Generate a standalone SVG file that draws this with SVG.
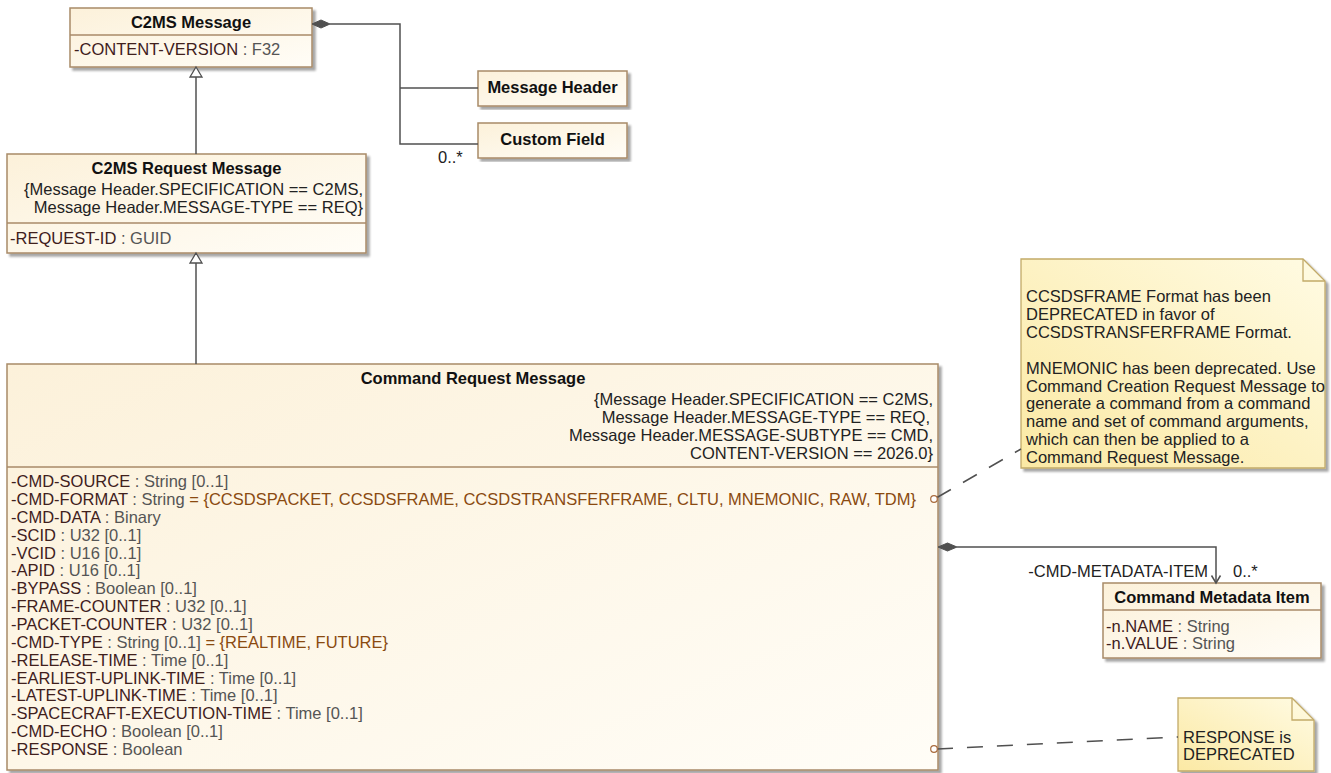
<svg xmlns="http://www.w3.org/2000/svg" width="1331" height="773" viewBox="0 0 1331 773">
<defs>
<linearGradient id="gBox" x1="0" y1="0" x2="1" y2="1">
<stop offset="0" stop-color="#fcf1da"/>
<stop offset="1" stop-color="#fffdf7"/>
</linearGradient>
<linearGradient id="gNote" x1="0" y1="1" x2="1" y2="0">
<stop offset="0" stop-color="#fbe9a4"/>
<stop offset="1" stop-color="#fffbe3"/>
</linearGradient>
<filter id="sh" x="-5%" y="-5%" width="115%" height="115%">
<feDropShadow dx="3" dy="3" stdDeviation="1.2" flood-color="#000" flood-opacity="0.35"/>
</filter>
</defs>
<style>
text{font-family:"Liberation Sans",Arial,sans-serif;font-size:16.5px;fill:#222}
.box{fill:url(#gBox);stroke:#a88a68;stroke-width:1.5;filter:url(#sh)}
.sep{stroke:#a88a68;stroke-width:1.5}
.note{fill:url(#gNote);stroke:#c2aa68;stroke-width:1.3;filter:url(#sh)}
.fold{fill:none;stroke:#c2aa68;stroke-width:1.3}
.title{font-weight:bold;fill:#111;text-anchor:middle}
.nm{fill:#40201c}
.ty{fill:#555}
.dv{fill:#8a4a10}
.con{text-anchor:end;fill:#222}
.ln{fill:none;stroke:#505050;stroke-width:1.5}
.dash{fill:none;stroke:#505050;stroke-width:1.5;stroke-dasharray:16 14}
.gen{fill:#fff;stroke:#505050;stroke-width:1.3}
.dia{fill:#505050;stroke:#505050;stroke-width:1}
.anchor{fill:#fff;stroke:#a86a3c;stroke-width:1.2}
.lbl{fill:#222}
</style>

<g id="node-c2ms-message">
<rect class="box" x="70" y="8" width="242" height="59"/>
<line class="sep" x1="70" y1="35" x2="312" y2="35"/>
<text class="title" x="191" y="28">C2MS Message</text>
<text x="74" y="54.5"><tspan class="nm">-CONTENT-VERSION</tspan><tspan class="ty"> : F32</tspan></text>
</g>

<g id="node-message-header">
<rect class="box" x="478" y="71" width="149" height="35"/>
<text class="title" x="552.5" y="93">Message Header</text>
</g>

<g id="node-custom-field">
<rect class="box" x="478" y="123" width="149" height="35"/>
<text class="title" x="552.5" y="145">Custom Field</text>
</g>

<g id="node-c2ms-request-message">
<rect class="box" x="7" y="154" width="359" height="99"/>
<text class="title" x="186.5" y="174">C2MS Request Message</text>
<text class="con" x="363" y="195">{Message Header.SPECIFICATION == C2MS,</text>
<text class="con" x="363" y="213">Message Header.MESSAGE-TYPE == REQ}</text>
<line class="sep" x1="7" y1="223" x2="366" y2="223"/>
<text x="10" y="244"><tspan class="nm">-REQUEST-ID</tspan><tspan class="ty"> : GUID</tspan></text>
</g>

<g id="node-command-request-message">
<rect class="box" x="7" y="364" width="931" height="406"/>
<text class="title" x="473" y="383.5">Command Request Message</text>
<text class="con" x="933" y="405">{Message Header.SPECIFICATION == C2MS,</text>
<text class="con" x="930" y="423">Message Header.MESSAGE-TYPE == REQ,</text>
<text class="con" x="933" y="441">Message Header.MESSAGE-SUBTYPE == CMD,</text>
<text class="con" x="933" y="459">CONTENT-VERSION == 2026.0}</text>
<line class="sep" x1="7" y1="467" x2="938" y2="467"/>
<text x="11" y="487"><tspan class="nm">-CMD-SOURCE</tspan><tspan class="ty"> : String [0..1]</tspan></text>
<text x="11" y="504.9"><tspan class="nm">-CMD-FORMAT</tspan><tspan class="ty"> : String </tspan><tspan class="dv">= {CCSDSPACKET, CCSDSFRAME, CCSDSTRANSFERFRAME, CLTU, MNEMONIC, RAW, TDM}</tspan></text>
<text x="11" y="522.7"><tspan class="nm">-CMD-DATA</tspan><tspan class="ty"> : Binary</tspan></text>
<text x="11" y="540.6"><tspan class="nm">-SCID</tspan><tspan class="ty"> : U32 [0..1]</tspan></text>
<text x="11" y="558.5"><tspan class="nm">-VCID</tspan><tspan class="ty"> : U16 [0..1]</tspan></text>
<text x="11" y="576.4"><tspan class="nm">-APID</tspan><tspan class="ty"> : U16 [0..1]</tspan></text>
<text x="11" y="594.2"><tspan class="nm">-BYPASS</tspan><tspan class="ty"> : Boolean [0..1]</tspan></text>
<text x="11" y="612.1"><tspan class="nm">-FRAME-COUNTER</tspan><tspan class="ty"> : U32 [0..1]</tspan></text>
<text x="11" y="630"><tspan class="nm">-PACKET-COUNTER</tspan><tspan class="ty"> : U32 [0..1]</tspan></text>
<text x="11" y="647.8"><tspan class="nm">-CMD-TYPE</tspan><tspan class="ty"> : String [0..1] </tspan><tspan class="dv">= {REALTIME, FUTURE}</tspan></text>
<text x="11" y="665.7"><tspan class="nm">-RELEASE-TIME</tspan><tspan class="ty"> : Time [0..1]</tspan></text>
<text x="11" y="683.6"><tspan class="nm">-EARLIEST-UPLINK-TIME</tspan><tspan class="ty"> : Time [0..1]</tspan></text>
<text x="11" y="701.4"><tspan class="nm">-LATEST-UPLINK-TIME</tspan><tspan class="ty"> : Time [0..1]</tspan></text>
<text x="11" y="719.3"><tspan class="nm">-SPACECRAFT-EXECUTION-TIME</tspan><tspan class="ty"> : Time [0..1]</tspan></text>
<text x="11" y="737.2"><tspan class="nm">-CMD-ECHO</tspan><tspan class="ty"> : Boolean [0..1]</tspan></text>
<text x="11" y="755"><tspan class="nm">-RESPONSE</tspan><tspan class="ty"> : Boolean</tspan></text>
</g>

<g id="node-command-metadata-item">
<rect class="box" x="1103" y="583" width="218" height="75"/>
<text class="title" x="1212" y="603">Command Metadata Item</text>
<line class="sep" x1="1103" y1="610" x2="1321" y2="610"/>
<text x="1106" y="632"><tspan class="nm">-n.NAME</tspan><tspan class="ty"> : String</tspan></text>
<text x="1106" y="648.5"><tspan class="nm">-n.VALUE</tspan><tspan class="ty"> : String</tspan></text>
</g>

<g id="note-deprecated-formats">
<path class="note" d="M1021,259 H1303 L1325,281 V468 H1021 Z"/>
<path class="fold" d="M1303,259 V281 H1325"/>
<text x="1026" y="302">CCSDSFRAME Format has been</text>
<text x="1026" y="319.9">DEPRECATED in favor of</text>
<text x="1026" y="337.8">CCSDSTRANSFERFRAME Format.</text>
<text x="1026" y="373.6">MNEMONIC has been deprecated. Use</text>
<text x="1026" y="391.5">Command Creation Request Message to</text>
<text x="1026" y="409.4">generate a command from a command</text>
<text x="1026" y="427.3">name and set of command arguments,</text>
<text x="1026" y="445.2">which can then be applied to a</text>
<text x="1026" y="463.1">Command Request Message.</text>
</g>

<g id="note-response-deprecated">
<path class="note" d="M1178,698 H1292 L1314,720 V771 H1178 Z"/>
<path class="fold" d="M1292,698 V720 H1314"/>
<text x="1183" y="742.5">RESPONSE is</text>
<text x="1183" y="760">DEPRECATED</text>
</g>

<g id="connectors">
<path class="ln" d="M196,154 V77"/>
<path class="gen" d="M196,67 L202,77 L190,77 Z"/>
<path class="ln" d="M196,364 V263"/>
<path class="gen" d="M196,253 L202,263 L190,263 Z"/>
<path class="ln" d="M330,24 H400 V144 H478"/>
<path class="ln" d="M400,88 H478"/>
<path class="dia" d="M312,24 L321,20 L330,24 L321,28 Z"/>
<text class="lbl" x="438" y="163">0..*</text>
<path class="ln" d="M957,547 H1216 V583"/>
<path class="dia" d="M938,547 L947.5,543 L957,547 L947.5,551 Z"/>
<path class="ln" d="M1211.5,575.5 L1216,583 L1220.5,575.5"/>
<text class="lbl" x="1208" y="577" text-anchor="end">-CMD-METADATA-ITEM</text>
<text class="lbl" x="1233" y="577">0..*</text>
<path class="dash" d="M937,497.5 L1021,449"/>
<path class="dash" d="M937,749 L1178,737"/>
<circle class="anchor" cx="934" cy="499" r="3.3"/>
<circle class="anchor" cx="934" cy="749" r="3.3"/>
</g>
</svg>
